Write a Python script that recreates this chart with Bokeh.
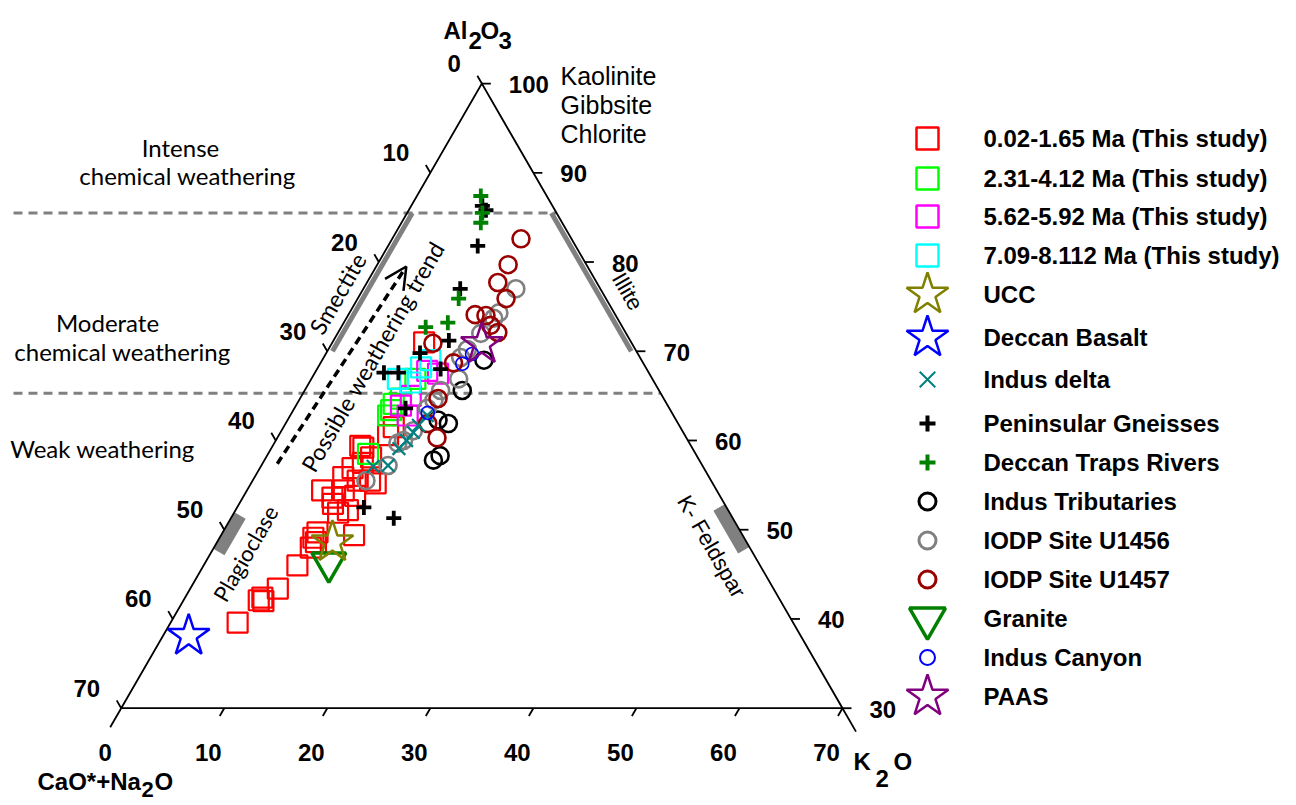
import math
from bokeh.plotting import figure
from bokeh.models import Range1d, Label, Arrow, OpenHead
from bokeh.embed import file_html
from bokeh.resources import INLINE

# ---------------- data: molar proportions (%) ----------------
# A = Al2O3, K = K2O ; CaO*+Na2O = 100 - A - K
ma_0_02_A = [39.6, 42.1, 42.4, 42.0, 43.4, 46.0, 48.0, 49.1, 49.7, 48.6, 49.4, 54.4, 53.6, 52.9, 54.4,
             52.2, 55.9, 56.9, 55.5, 55.5, 59.2, 55.2, 51.9, 53.8, 57.5, 60.6, 61.5, 71.0, 59.4, 58.1]
ma_0_02_K = [6.5, 7.3, 7.5, 7.8, 8.5, 9.1, 9.4, 9.1, 9.2, 9.6, 12.9, 7.3, 8.7, 9.1, 9.4,
             10.9, 8.6, 9.0, 10.2, 11.4, 8.9, 12.1, 10.1, 10.8, 9.7, 10.6, 10.7, 8.9, 8.5, 10.2]
ma_2_31_A = [58.5, 63.4, 64.1, 66.9, 64.7, 62.8]
ma_2_31_K = [9.7, 9.5, 9.4, 10.1, 9.8, 9.5]
ma_5_62_A = [63.9, 62.8, 67.8, 67.5, 65.0]
ma_5_62_K = [10.2, 11.4, 10.8, 12.0, 10.6]
ma_7_09_A = [66.9, 68.2, 66.5, 69.0]
ma_7_09_K = [8.4, 10.0, 9.8, 10.5]
ucc_A = [48.6]
ucc_K = [11.2]
deccan_basalt_A = [38.1]
deccan_basalt_K = [2.5]
indus_delta_A = [57.1, 57.2, 59.1, 60.0, 60.9, 61.7, 62.8]
indus_delta_K = [10.9, 12.3, 12.4, 12.7, 12.9, 13.0, 13.3]
gneiss_A = [86.3, 85.8, 81.8, 77.0, 71.2, 69.8, 68.0, 67.6, 67.6, 52.5, 51.3, 63.6]
gneiss_K = [6.9, 7.5, 8.7, 9.4, 11.2, 9.1, 12.0, 6.7, 8.1, 12.3, 15.8, 10.8]
traps_A = [87.4, 85.5, 84.4, 75.9, 73.2, 72.7]
traps_K = [6.2, 7.3, 7.7, 9.8, 10.1, 8.2]
tribs_A = [69.0, 65.6, 61.9, 57.8, 58.3, 62.3]
tribs_K = [15.7, 15.3, 15.8, 16.4, 16.8, 14.6]
u1456_A = [77.0, 74.3, 73.7, 72.0, 70.2, 69.3, 66.9, 65.6, 64.5, 63.6, 61.1, 60.0, 59.7, 57.2, 55.5]
u1456_K = [14.8, 14.5, 14.3, 13.9, 13.5, 13.3, 14.3, 13.2, 13.1, 12.9, 12.8, 12.4, 12.0, 12.3, 11.0]
u1457_A = [82.6, 79.7, 77.7, 75.9, 74.1, 74.0, 72.9, 72.1, 70.9, 68.7, 64.7, 61.9, 60.3]
u1457_K = [12.5, 12.7, 12.7, 14.4, 12.3, 13.4, 14.4, 15.5, 9.8, 12.9, 13.4, 13.8, 15.5]
granite_A = [46.3]
granite_K = [12.0]
canyon_A = [68.6, 69.7, 63.1]
canyon_K = [13.8, 14.2, 13.2]
paas_A = [70.8]
paas_K = [14.6]

cn_ticks = [0, 10, 20, 30, 40, 50, 60, 70]
k_ticks = [0, 10, 20, 30, 40, 50, 60, 70]
a_ticks = [100, 90, 80, 70, 60, 50, 40, 30]
cia_levels = [85.5, 65.3]          # weathering-intensity boundaries (Al2O3 %)
arrow_start = (57.4, 1.45)          # (A, K) of "possible weathering trend"
arrow_end = (79.5, 2.92)

# (name, A, K, marker, color, size, line width, legend size, legend line width)
series = [
    ("0.02-1.65 Ma (This study)", ma_0_02_A, ma_0_02_K, "square", "#FF0000", 20, 2.2, 22, 2.5),
    ("2.31-4.12 Ma (This study)", ma_2_31_A, ma_2_31_K, "square", "#00FF00", 20, 2.2, 22, 2.5),
    ("5.62-5.92 Ma (This study)", ma_5_62_A, ma_5_62_K, "square", "#FF00FF", 20, 2.2, 22, 2.5),
    ("7.09-8.112 Ma (This study)", ma_7_09_A, ma_7_09_K, "square", "#00FFFF", 20, 2.2, 22, 2.5),
    ("UCC", ucc_A, ucc_K, "star", "#808000", 44, 2.5, 44, 2.5),
    ("Deccan Basalt", deccan_basalt_A, deccan_basalt_K, "star", "#0000FF", 44, 2.5, 44, 2.5),
    ("Indus delta", indus_delta_A, indus_delta_K, "x", "#008080", 18, 2.2, 22, 2.0),
    ("Peninsular Gneisses", gneiss_A, gneiss_K, "cross", "#000000", 15, 3.8, 16, 4.0),
    ("Deccan Traps Rivers", traps_A, traps_K, "cross", "#008000", 15, 3.8, 16, 4.0),
    ("Indus Tributaries", tribs_A, tribs_K, "circle", "#000000", 17, 2.6, 17, 3.0),
    ("IODP Site U1456", u1456_A, u1456_K, "circle", "#808080", 17, 2.6, 17, 3.0),
    ("IODP Site U1457", u1457_A, u1457_K, "circle", "#990000", 17, 2.6, 17, 3.0),
    ("Granite", granite_A, granite_K, "inverted_triangle", "#008000", 34, 3.5, 36, 3.5),
    ("Indus Canyon", canyon_A, canyon_K, "circle", "#0000FF", 13, 1.6, 15, 2.0),
    ("PAAS", paas_A, paas_K, "star", "#800080", 44, 2.5, 44, 2.5),
]
draw_order = [0, 1, 2, 3, 9, 10, 11, 6, 7, 8, 13, 12, 4, 5, 14]

# ---------------- geometry ----------------
SQ3 = math.sqrt(3)
S = 10.304             # px per percent unit
X0, Y0 = 120.7, 707.7  # pixel of the lower-left corner of the triangle
W, H = 1292, 804


def tern(A, K):
    return K + (A - 30) / 2.0, (A - 30) * SQ3 / 2.0


def pix(px, py):
    return (px - X0) / S, (Y0 - py) / S


p = figure(width=W, height=H, x_range=Range1d(-X0 / S, (W - X0) / S),
           y_range=Range1d((Y0 - H) / S, Y0 / S),
           output_backend="svg", toolbar_location=None, min_border=0,
           x_axis_location=None, y_axis_location=None)
p.grid.visible = False
p.outline_line_color = None
p.background_fill_color = "white"


def label(px, py, text, size, bold=False, font="Liberation Sans", align="center",
          angle=0.0, color="black"):
    x, y = pix(px, py)
    p.add_layout(Label(x=x, y=y, text=text, text_font=font, text_font_size=f"{size}px",
                       text_font_style="bold" if bold else "normal", text_align=align,
                       text_baseline="middle", angle=angle, text_color=color))


# weathering boundaries (dashed grey)
for a in cia_levels:
    xs, ys = tern(a, 100 - a)
    x_left, _ = pix(13, 0)
    p.line([x_left, xs], [ys, ys], line_color="#808080", line_width=3, line_dash="9 6")


# mineral ranges (grey bars)
def bar_left(a1, a2, k, width):
    (x1, y1), (x2, y2) = tern(a1, k), tern(a2, k)
    p.line([x1, x2], [y1, y2], line_color="#808080", line_width=width, line_cap="butt")


def bar_right(a1, a2, cn, width):
    (x1, y1), (x2, y2) = tern(a1, 100 - a1 - cn), tern(a2, 100 - a2 - cn)
    p.line([x1, x2], [y1, y2], line_color="#808080", line_width=width, line_cap="butt")


bar_left(85.5, 70.0, 0.5, 5)      # smectite
bar_right(85.5, 70.0, 0.5, 5)     # illite
bar_left(51.6, 47.5, 0.73, 13)    # plagioclase
bar_right(52.5, 47.7, 0.73, 13)   # K-feldspar

# triangle
cL, cR, cT = tern(30, 0), tern(30, 70), tern(100, 0)
p.line([cL[0], cR[0], cT[0], cL[0]], [cL[1], cR[1], cT[1], cL[1]], line_color="black",
       line_width=1.8, line_join="miter")

# ticks
x0s, y0s, x1s, y1s = [], [], [], []
TL = 9.0 / S
for cn in cn_ticks:  # left edge, ticks up-left
    bx, by = tern(100 - cn, 0)
    x0s.append(bx); y0s.append(by); x1s.append(bx - 0.5 * TL); y1s.append(by + SQ3 / 2 * TL)
    label(X0 + bx * S - 21, Y0 - by * S - 20, str(cn), 24, bold=True, align="right")
for k in k_ticks:  # bottom edge, ticks down-left
    bx, by = tern(30, k)
    L = (22.0 / S) if k == 0 else TL
    x0s.append(bx); y0s.append(by); x1s.append(bx - 0.5 * L); y1s.append(by - SQ3 / 2 * L)
    label(X0 + bx * S - 16, Y0 - by * S + 44, str(k), 24, bold=True)
for a in a_ticks:  # right edge, ticks to the right
    bx, by = tern(a, 100 - a)
    x0s.append(bx); y0s.append(by); x1s.append(bx + TL); y1s.append(by)
    label(X0 + bx * S + 27, Y0 - by * S + 1, str(a), 24, bold=True, align="left")
# extension of the right edge below the corner
ex = 27.0 / S
x0s.append(cR[0]); y0s.append(cR[1]); x1s.append(cR[0] + 0.5 * ex); y1s.append(cR[1] - SQ3 / 2 * ex)
p.segment(x0s, y0s, x1s, y1s, line_color="black", line_width=1.8)

# weathering trend arrow
sx, sy = tern(*arrow_start)
ex_, ey_ = tern(*arrow_end)
p.add_layout(Arrow(x_start=sx, y_start=sy, x_end=ex_, y_end=ey_,
                   line_color="black", line_width=3.5, line_dash="8 5",
                   end=OpenHead(size=22, line_width=2.5, line_color="black")))

# data points
for i in draw_order:
    name, A, K, mk, col, sz, lw, _, _ = series[i]
    xs = [k + (a - 30) / 2.0 for a, k in zip(A, K)]
    ys = [(a - 30) * SQ3 / 2.0 for a in A]
    p.scatter(xs, ys, marker=mk, size=sz, line_color=col, line_width=lw, fill_color=None)

# legend
leg_rows = [138, 178, 216, 255, 294, 337, 379, 423, 462, 501, 540, 579, 618, 657, 696]
for (name, A, K, mk, col, sz, lw, lsz, llw), ry in zip(series, leg_rows):
    lx, ly = pix(927, ry)
    p.scatter([lx], [ly], marker=mk, size=lsz, line_color=col, line_width=llw, fill_color=None)
    label(983, ry, name, 24, bold=True, align="left")

# axis titles (with subscripts)
label(443, 30, "Al", 24, bold=True, align="left")
label(468, 40, "2", 24, bold=True, align="left")
label(480, 30, "O", 24, bold=True, align="left")
label(498, 40, "3", 24, bold=True, align="left")
label(37, 781, "CaO*+Na", 24, bold=True, align="left")
label(141, 789, "2", 22, bold=True, align="left")
label(154, 781, "O", 24, bold=True, align="left")
label(853, 761, "K", 24, bold=True, align="left")
label(875, 778, "2", 24, bold=True, align="left")
label(893, 761, "O", 24, bold=True, align="left")

# zone and mineral annotations
HUM = "Lato"
label(180, 147, "Intense", 24, font=HUM)
label(187, 175, "chemical weathering", 24, font=HUM)
label(107, 322, "Moderate", 24, font=HUM)
label(122, 351, "chemical weathering", 24, font=HUM)
label(102, 448, "Weak weathering", 24, font=HUM)
label(560, 75, "Kaolinite", 25, align="left")
label(560, 104, "Gibbsite", 25, align="left")
label(560, 133, "Chlorite", 25, align="left")
label(337, 293, "Smectite", 23, font=HUM, angle=math.radians(60))
label(372, 356, "Possible weathering trend", 23, font=HUM, angle=math.radians(60))
label(245, 553, "Plagioclase", 22, font=HUM, angle=math.radians(60))
label(627, 291, "Illite", 22, angle=math.radians(-60))
label(711, 546, "K- Feldspar", 22, angle=math.radians(-60))

open("out.html", "w").write(file_html(p, INLINE))
